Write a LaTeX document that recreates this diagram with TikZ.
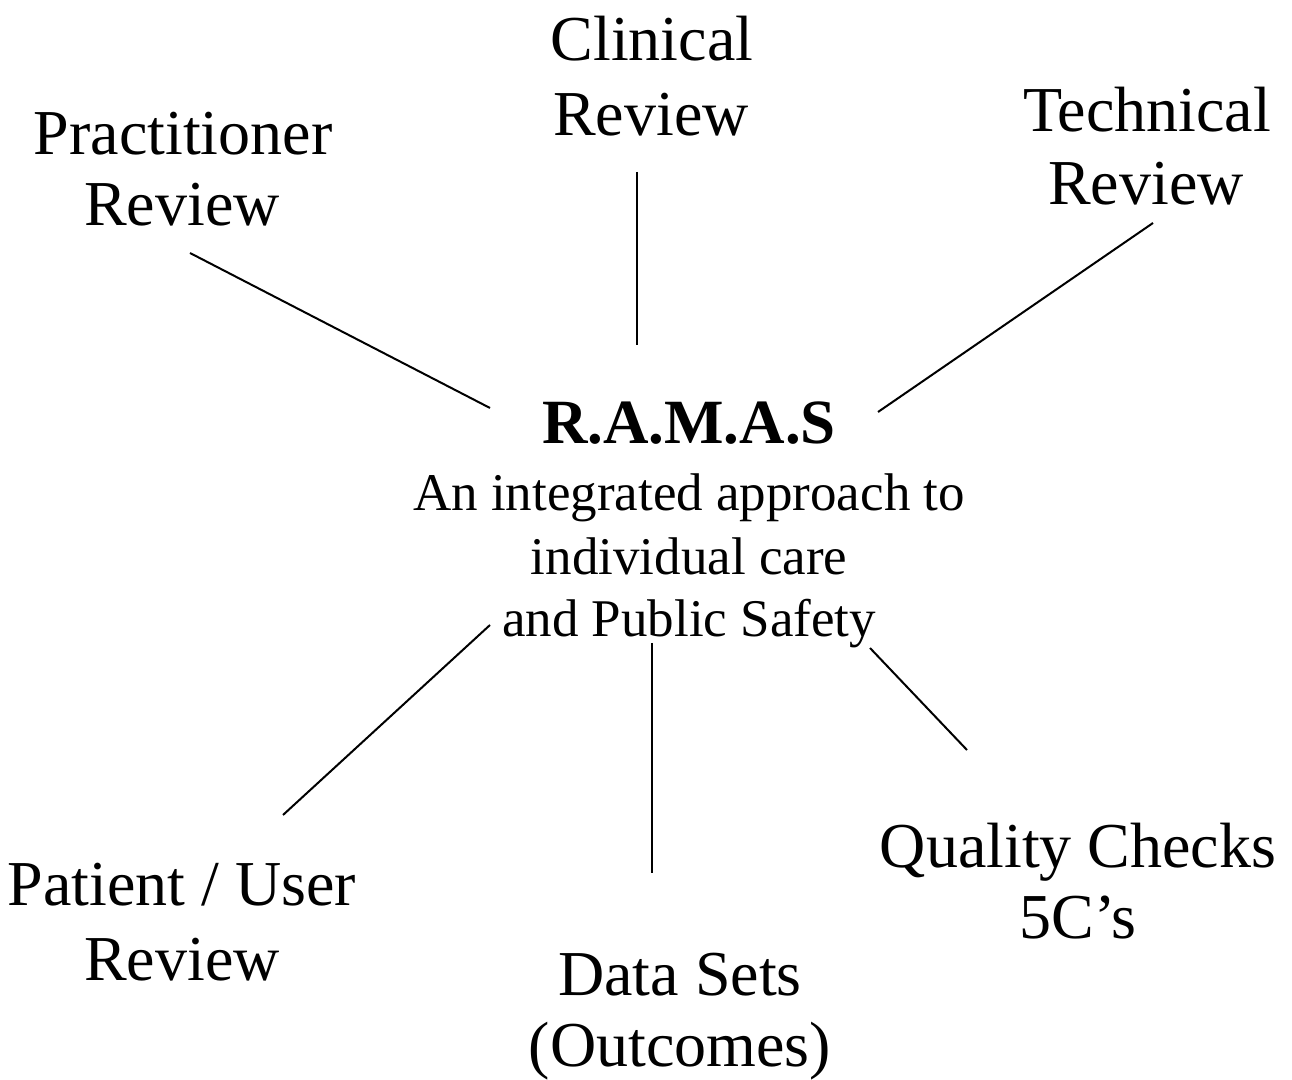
\documentclass[tikz,border=0pt]{standalone}
\usepackage{fontspec}
\setmainfont{Liberation Serif}
\begin{document}
\begin{tikzpicture}[x=1pt,y=1pt,
  outer/.style={inner sep=0pt, anchor=base, align=center, font=\fontsize{64}{74}\selectfont},
  inner/.style={inner sep=0pt, anchor=base, align=center, font=\fontsize{53}{65}\selectfont},
  conn/.style={line width=2pt, black}]
\useasboundingbox (0,0) rectangle (1292,1079);
% labels (y = 1079 - baseline)
\node[outer] (clin1) at (652,1018) {Clinical};
\node[outer] (clin2) at (651,943) {Review};
\node[outer] (prac1) at (183,924) {Practitioner};
\node[outer] (prac2) at (182,853) {Review};
\node[outer] (tech1) at (1147,947) {Technical};
\node[outer] (tech2) at (1146,874) {Review};
\node[inner, font=\fontsize{63}{65}\selectfont\bfseries] (ramas) at (689,635) {R.A.M.A.S};
\node[inner] (sub1) at (689,568) {An integrated approach to};
\node[inner] (sub2) at (689,504) {individual care};
\node[inner] (sub3) at (689,442) {and Public Safety};
\node[outer] (pat1) at (182,174) {Patient / User};
\node[outer] (pat2) at (182,99) {Review};
\node[outer] (qual1) at (1078,212) {Quality Checks};
\node[outer] (qual2) at (1078,141) {5C’s};
\node[outer] (data1) at (680,84) {Data Sets};
\node[outer] (data2) at (680,13) {(Outcomes)};
% connector end points
\coordinate (pA) at (190,826);
\coordinate (pB) at (490,671);
\coordinate (cA) at (637,907);
\coordinate (cB) at (637,734);
\coordinate (tA) at (1153,856);
\coordinate (tB) at (878,667);
\coordinate (uA) at (490,454);
\coordinate (uB) at (283,264);
\coordinate (dA) at (652,436);
\coordinate (dB) at (652,206);
\coordinate (qA) at (870,431);
\coordinate (qB) at (967,329);
\draw[conn] (pA) -- (pB);
\draw[conn] (cA) -- (cB);
\draw[conn] (tA) -- (tB);
\draw[conn] (uA) -- (uB);
\draw[conn] (dA) -- (dB);
\draw[conn] (qA) -- (qB);
\end{tikzpicture}
\end{document}
